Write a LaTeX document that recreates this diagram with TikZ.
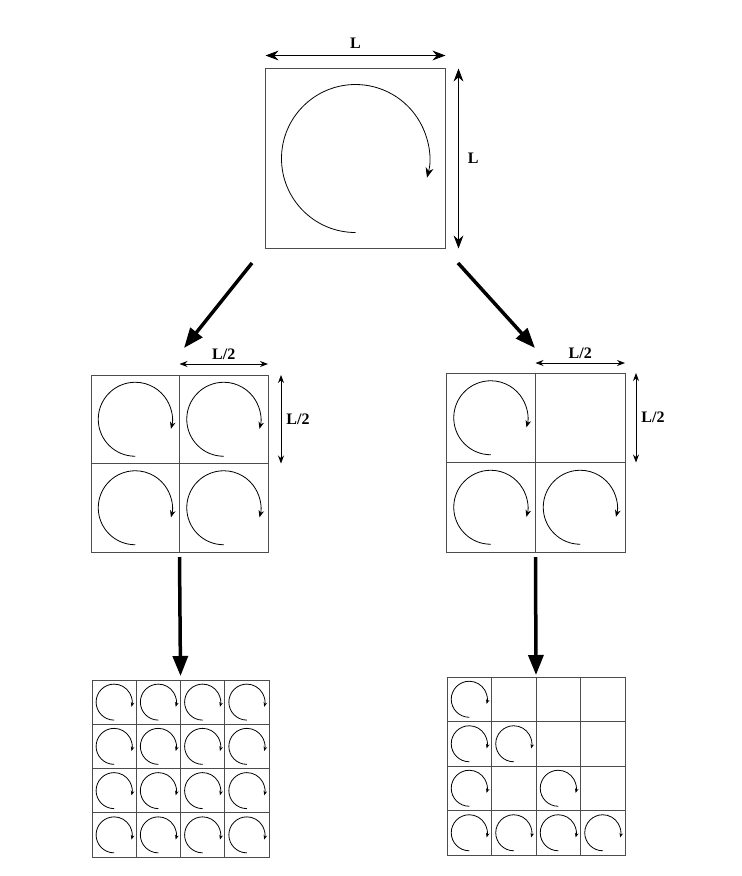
\documentclass[tikz,border=0pt]{standalone}
\usepackage{fontspec}
\setmainfont{Liberation Serif}
\usetikzlibrary{arrows.meta,calc}

% one vortex: centre x, centre y, radius, tip length
\newcommand{\vortex}[4]{%
  \draw[swirl=#4] (#1,#2) ++(270:#3) arc[start angle=270, end angle=-15, radius=#3];}

\begin{document}
\begin{tikzpicture}[x=1pt, y=1pt,
    box/.style={draw=black!70, line width=0.9pt, minimum size=#1, inner sep=0pt, outer sep=0pt},
    gridline/.style={draw=black!70, line width=0.8pt},
    swirl/.style={line width=0.8pt, -{Stealth[length=#1, width=0.8*#1]}},
    bigarrow/.style={line width=3.5pt, -{Triangle[length=20pt, width=15pt]}},
    dimarrow/.style={line width=0.8pt, {Stealth[length=#1, width=0.75*#1]}-{Stealth[length=#1, width=0.75*#1]}},
    dimlabel/.style={font=\fontsize{16}{18}\selectfont\bfseries, inner sep=2pt}]
  \useasboundingbox (0,0) rectangle (742,-876);

  % top square
  \node[box=180pt] (top) at (355.5,-158.5) {};
  \vortex{355.5}{-158.5}{74}{10pt}
  \draw[dimarrow=13pt] ([yshift=13pt]top.north west) -- ([yshift=13pt]top.north east)
    node[dimlabel, midway, above=5pt] {L};
  \draw[dimarrow=13pt] ([xshift=13pt]top.north east) -- ([xshift=13pt]top.south east)
    node[dimlabel, midway, right=7pt] {L};

  % first split
  \node[box=177pt] (midL) at (179.5,-463.5) {};
  \node[box=179pt] (midR) at (535.5,-462.5) {};
  \foreach \g in {midL,midR}
    \draw[gridline] (\g.north) -- (\g.south) (\g.west) -- (\g.east);
  \foreach \cx/\cy in {135.25/-419.25, 223.75/-419.25, 135.25/-507.75, 223.75/-507.75}
    {\vortex{\cx}{\cy}{37}{7pt}}
  \foreach \cx/\cy in {490.75/-417.75, 490.75/-507.25, 580.25/-507.25}
    {\vortex{\cx}{\cy}{37}{7pt}}
  \draw[dimarrow=8pt] ([yshift=11pt]midL.north) -- ([yshift=11pt]midL.north east)
    node[dimlabel, midway, above=2pt] {L/2};
  \draw[dimarrow=8pt] ([xshift=13pt]midL.north east) -- ([xshift=13pt]midL.east)
    node[dimlabel, midway, right=3pt] {L/2};
  \draw[dimarrow=8pt] ([yshift=10pt]midR.north) -- ([yshift=10pt]midR.north east)
    node[dimlabel, midway, above=2pt] {L/2};
  \draw[dimarrow=8pt] ([xshift=11pt]midR.north east) -- ([xshift=11pt]midR.east)
    node[dimlabel, midway, right=3pt] {L/2};

  % second split
  \node[box=177pt] (botL) at (180.5,-768.5) {};
  \node[box=178pt] (botR) at (536,-766) {};
  \foreach \g in {botL,botR}
    \foreach \k in {1,2,3} {
      \draw[gridline] ($(\g.north west)!\k/4!(\g.north east)$) -- ($(\g.south west)!\k/4!(\g.south east)$);
      \draw[gridline] ($(\g.north west)!\k/4!(\g.south west)$) -- ($(\g.north east)!\k/4!(\g.south east)$);
    }
  \foreach \c in {0,...,3}
    \foreach \r in {0,...,3}
      {\vortex{92+44.25*\c+22.1}{-680-44.25*\r-22.1}{18}{4.5pt}}
  \foreach \c/\r in {0/0, 0/1, 1/1, 0/2, 2/2, 0/3, 1/3, 2/3, 3/3}
    {\vortex{447+44.5*\c+22.25}{-677-44.5*\r-22.25}{18}{4.5pt}}

  % refinement arrows
  \coordinate (splitL) at (252,-263);
  \coordinate (intoL) at (184,-348);
  \coordinate (splitR) at (458,-263);
  \coordinate (intoR) at (535,-348);
  \draw[bigarrow] (splitL) -- (intoL);
  \draw[bigarrow] (splitR) -- (intoR);
  \draw[bigarrow] ([yshift=-5pt]midL.south) -- ([yshift=4pt]botL.north);
  \draw[bigarrow] ([yshift=-5pt]midR.south) -- ([yshift=2pt]botR.north);
\end{tikzpicture}
\end{document}
